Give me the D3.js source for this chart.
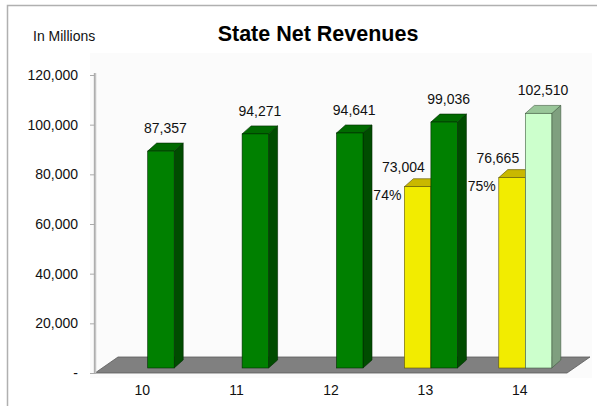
<!DOCTYPE html>
<html><head><meta charset="utf-8">
<script src="https://cdn.jsdelivr.net/npm/d3@7"></script>
<style>html,body{margin:0;background:#fff;overflow:hidden}svg{display:block;font-family:"Liberation Sans",Arial,sans-serif}</style>
</head><body><div id="chart"></div>
<script>
const categories = ["10","11","12","13","14"];
const projected = [null, null, null, 73004, 76665];          // yellow series
const projectedPct = [null, null, null, "74%", "75%"];
const actual = [87357, 94271, 94641, 99036, 102510];          // green series
const actualKind = ["actual","actual","actual","actual","estimate"];
const yTicks = [0, 20000, 40000, 60000, 80000, 100000, 120000];
const title = "State Net Revenues";
const unitLabel = "In Millions";

const W = 597, H = 406;
const svg = d3.select("#chart").append("svg").attr("width", W).attr("height", H);
const FONT = 14;

// frame (only top and left edges visible) and faint plot area
svg.append("path").attr("d", `M7.5,${H}L7.5,5.5L${W},5.5`)
  .attr("fill", "none").attr("stroke", "#b0b0b0").attr("stroke-width", 1.5);
svg.append("rect").attr("x", 90).attr("y", 53).attr("width", 502).attr("height", 325).attr("fill", "#fbfbfb");

const x = d3.scaleBand().domain(categories).range([95, 567]).padding(0);
const y = d3.scaleLinear().domain([0, 120000]).range([373, 75]);

// floor depth and bar depth
const floorD = {dx: 23, dy: -16};
const shift = {dx: 5.5, dy: -5};
const barD = {dx: 9, dy: -8};
const bw = 26.5;
const sub = d3.scaleBand().domain(["proj","act"]).range([-bw, bw]);

// floor
const fx0 = x.range()[0], fx1 = x.range()[1], fy = y(0);
svg.append("path")
  .attr("d", `M${fx0},${fy}L${fx1},${fy}L${fx1+floorD.dx},${fy+floorD.dy}L${fx0+floorD.dx},${fy+floorD.dy}Z`)
  .attr("fill", "#808080").attr("stroke", "#5a5a5a").attr("stroke-width", 0.8);

// y axis line and ticks
svg.append("line").attr("x1", 95).attr("x2", 95).attr("y1", y(120000) - 2).attr("y2", y(0))
  .attr("stroke", "#c4c4c4").attr("stroke-width", 2.5);
svg.append("line").attr("x1", 94.5).attr("x2", 94.5).attr("y1", y(120000) - 2).attr("y2", y(0))
  .attr("stroke", "#a8a8a8").attr("stroke-width", 0.8);
const fmt = d3.format(",");
const yAxis = d3.axisLeft(y).tickValues(yTicks).tickSize(5).tickPadding(12)
  .tickFormat(d => d === 0 ? "-" : fmt(d));
const gy = svg.append("g").attr("transform", "translate(95,0)").call(yAxis);
gy.select(".domain").remove();
gy.selectAll(".tick line").attr("stroke", "#aaa");
gy.selectAll(".tick text").attr("font-size", FONT).attr("fill", "#111")
  .attr("font-family", '"Liberation Sans",Arial,sans-serif');

// x axis labels
svg.append("g").selectAll("text").data(categories).join("text")
  .attr("x", d => x(d) + x.bandwidth() / 2).attr("y", 395)
  .attr("text-anchor", "middle").attr("font-size", FONT).attr("fill", "#111").text(d => d);

// 3D bar drawer
const palettes = {
  proj: {front: "#f2ec00", top: "#c9b800", side: "#b0a400", stroke: "#5a5200"},
  actual: {front: "#008000", top: "#006a00", side: "#004c00", stroke: "#002a00"},
  estimate: {front: "#ccffcc", top: "#99c699", side: "#7f9f7f", stroke: "#405a40"}
};
function bar(g, x0, v, pal) {
  const x1 = x0 + bw;
  const yt = y(v) + shift.dy, yb = y(0) + shift.dy;
  g.append("path").attr("d", `M${x1},${yt}L${x1+barD.dx},${yt+barD.dy}L${x1+barD.dx},${yb+barD.dy}L${x1},${yb}Z`)
    .attr("fill", pal.side).attr("stroke", pal.stroke).attr("stroke-width", 0.6);
  g.append("path").attr("d", `M${x0},${yt}L${x0+barD.dx},${yt+barD.dy}L${x1+barD.dx},${yt+barD.dy}L${x1},${yt}Z`)
    .attr("fill", pal.top).attr("stroke", pal.stroke).attr("stroke-width", 0.6);
  g.append("rect").attr("x", x0).attr("y", yt).attr("width", bw).attr("height", yb - yt)
    .attr("fill", pal.front).attr("stroke", pal.stroke).attr("stroke-width", 0.6);
}

const bars = svg.append("g");
const labels = svg.append("g").attr("font-size", FONT).attr("fill", "#111");
categories.forEach((c, i) => {
  const cx = x(c) + x.bandwidth() / 2 + shift.dx;
  if (projected[i] != null) {
    const x0 = cx + sub("proj");
    bar(bars, x0, projected[i], palettes.proj);
    const yt = y(projected[i]) + shift.dy;
    labels.append("text").attr("x", x0 - 1).attr("y", yt - 15).attr("text-anchor", "middle").text(fmt(projected[i]));
    labels.append("text").attr("x", x0 - 3).attr("y", yt + 13).attr("text-anchor", "end").text(projectedPct[i]);
  }
  const x0 = cx + sub("act");
  bar(bars, x0, actual[i], palettes[actualKind[i]]);
  const yt = y(actual[i]) + shift.dy;
  labels.append("text").attr("x", x0 + (bw + barD.dx) / 2).attr("y", yt + barD.dy - 10)
    .attr("text-anchor", "middle").text(fmt(actual[i]));
});

// titles
svg.append("text").attr("x", 318).attr("y", 41).attr("text-anchor", "middle")
  .attr("font-size", 21.5).attr("font-weight", "bold").attr("fill", "#000").text(title);
svg.append("text").attr("x", 33).attr("y", 41).attr("font-size", FONT).attr("fill", "#111").text(unitLabel);
</script></body></html>
